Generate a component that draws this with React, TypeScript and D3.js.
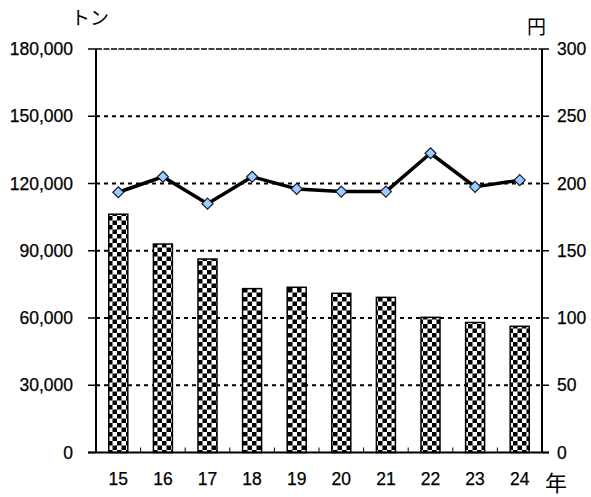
import React from "react";
import * as d3 from "d3";

const years = ["15", "16", "17", "18", "19", "20", "21", "22", "23", "24"];
const tons = [106300, 93000, 86300, 73100, 73700, 71000, 69200, 60300, 58000, 56300];
const prices = [193.5, 205, 185, 205, 196, 194, 194, 222.5, 197.5, 202.5];
const leftTicks = [0, 30000, 60000, 90000, 120000, 150000, 180000];
const rightTicks = [0, 50, 100, 150, 200, 250, 300];

const W = 591;
const H = 497;
const L = 96;
const R = 542;
const T = 49;
const B = 452.5;

export default function App() {
  const x = d3.scaleBand<string>().domain(years).range([L, R]);
  const yL = d3.scaleLinear().domain([0, 180000]).range([B, T]);
  const yR = d3.scaleLinear().domain([0, 300]).range([B, T]);
  const fmt = d3.format(",");
  const barW = 19;
  const line = d3
    .line<number>()
    .x((_, i) => (x(years[i]) as number) + x.bandwidth() / 2)
    .y((d) => yR(d));
  const numFont = "'Liberation Sans', Arial, sans-serif";
  const jpFont = "'Noto Sans CJK JP', sans-serif";
  return (
    <svg
      width={W}
      height={H}
      style={{ position: "absolute", left: 0, top: 0, background: "#fff" }}
    >
      <defs>
        <pattern id="checker" width={9} height={9} patternUnits="userSpaceOnUse">
          <rect x={0} y={0} width={9} height={9} fill="#fff" />
          <rect x={0} y={0} width={4.5} height={4.5} fill="#000" />
          <rect x={4.5} y={4.5} width={4.5} height={4.5} fill="#000" />
        </pattern>
      </defs>
      <rect x={0} y={0} width={W} height={H} fill="#fff" />
      {leftTicks
        .filter((t) => t > 0)
        .map((t) => (
          <line
            key={t}
            x1={L}
            x2={R}
            y1={yL(t)}
            y2={yL(t)}
            stroke="#000"
            strokeWidth={t === 180000 ? 1.5 : 2}
            strokeDasharray={t === 180000 ? "6,1.5" : "4,4"}
          />
        ))}
      {tons.map((v, i) => {
        const cx = (x(years[i]) as number) + x.bandwidth() / 2;
        return (
          <rect
            key={i}
            x={cx - barW / 2}
            y={yL(v)}
            width={barW}
            height={B - yL(v)}
            fill="url(#checker)"
            stroke="#000"
            strokeWidth={1.5}
          />
        );
      })}
      <line x1={L} x2={L} y1={T} y2={B} stroke="#000" strokeWidth={2} />
      <line x1={R} x2={R} y1={T} y2={B} stroke="#000" strokeWidth={2} />
      <line x1={L - 8} x2={R + 7} y1={B} y2={B} stroke="#000" strokeWidth={2} />
      {leftTicks.map((t) => (
        <g key={"l" + t}>
          <line x1={L - 8} x2={L} y1={yL(t)} y2={yL(t)} stroke="#000" strokeWidth={1.5} />
          <text
            x={73}
            y={yL(t)}
            textAnchor="end"
            dominantBaseline="central"
            fontFamily={numFont}
            fontSize={17.5}
            stroke="#000"
            strokeWidth={0.25}
            fill="#000"
          >
            {fmt(t)}
          </text>
        </g>
      ))}
      {rightTicks.map((t) => (
        <g key={"r" + t}>
          <line x1={R} x2={R + 7} y1={yR(t)} y2={yR(t)} stroke="#000" strokeWidth={1.5} />
          <text
            x={557}
            y={yR(t)}
            textAnchor="start"
            dominantBaseline="central"
            fontFamily={numFont}
            fontSize={17.5}
            stroke="#000"
            strokeWidth={0.25}
            fill="#000"
          >
            {t}
          </text>
        </g>
      ))}
      {years.slice(1).map((yv) => (
        <line
          key={"xt" + yv}
          x1={x(yv) as number}
          x2={x(yv) as number}
          y1={B}
          y2={B - 5}
          stroke="#000"
          strokeWidth={1}
        />
      ))}
      {years.map((yv) => (
        <text
          key={"xl" + yv}
          x={(x(yv) as number) + x.bandwidth() / 2}
          y={479}
          textAnchor="middle"
          dominantBaseline="central"
          fontFamily={numFont}
          fontSize={17.5}
          stroke="#000"
          strokeWidth={0.25}
          fill="#000"
        >
          {yv}
        </text>
      ))}
      <path d={line(prices) || ""} fill="none" stroke="#000" strokeWidth={3.5} strokeLinejoin="round" />
      {prices.map((p, i) => {
        const cx = (x(years[i]) as number) + x.bandwidth() / 2;
        const cy = yR(p);
        const s = 5.5;
        return (
          <path
            key={"m" + i}
            d={`M${cx},${cy - s}L${cx + s},${cy}L${cx},${cy + s}L${cx - s},${cy}Z`}
            fill="#99CCFF"
            stroke="#1a1a2e"
            strokeWidth={1.2}
          />
        );
      })}
      <text x={71} y={16} dominantBaseline="central" fontFamily={jpFont} fontSize={19} fill="#000">
        トン
      </text>
      <text x={527} y={25} dominantBaseline="central" fontFamily={jpFont} fontSize={19} fill="#000">
        円
      </text>
      <text x={545} y={481} dominantBaseline="central" fontFamily={jpFont} fontSize={22} fill="#000">
        年
      </text>
    </svg>
  );
}
